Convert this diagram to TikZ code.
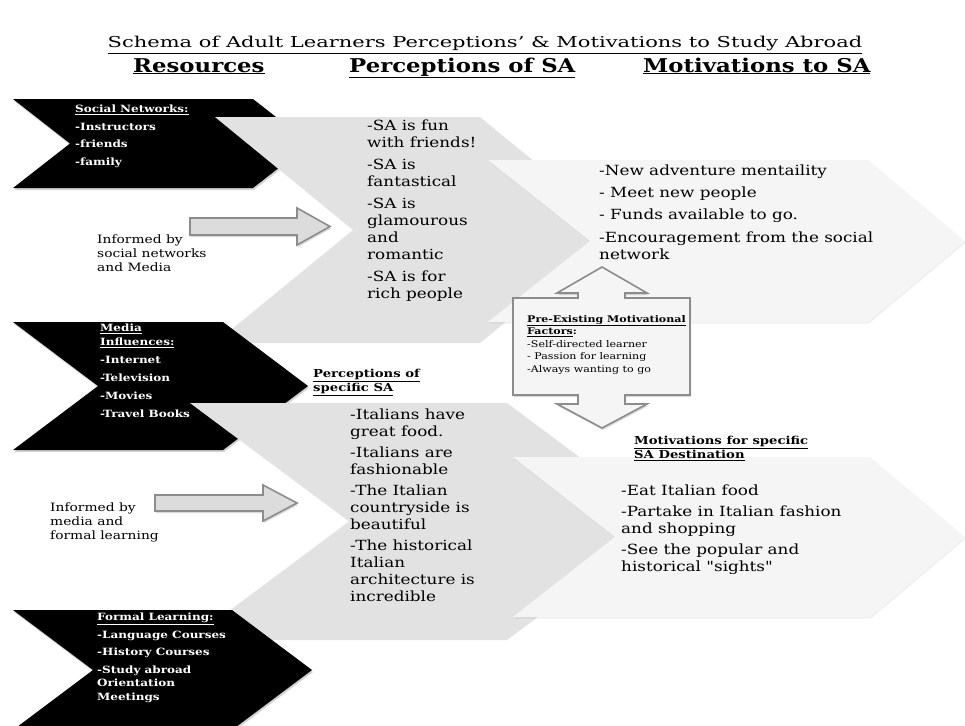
\documentclass[tikz,border=0pt]{standalone}
\usepackage{fontspec}
\setmainfont{DejaVu Serif}[FakeStretch=1.2]
\newfontfamily\titlefont{DejaVu Serif}[FakeStretch=1.4]
\newfontfamily\plainquote{DejaVu Serif}[FakeStretch=1.2]
\usetikzlibrary{shadows}

\definecolor{chevgrey}{HTML}{E2E2E2}
\definecolor{chevlight}{HTML}{F5F5F5}
\definecolor{arrowfill}{HTML}{DCDCDC}
\definecolor{arrowline}{HTML}{8C8C8C}

% chevron: style, left, notch, top-right corner, tip, top, bottom
\newcommand{\chevron}[7]{%
  \fill[#1] (#2,#6) -- (#4,#6) -- (#5,{(#6+#7)/2}) -- (#4,#7) -- (#2,#7) -- (#3,{(#6+#7)/2}) -- cycle;}
\newcommand{\dq}{{\plainquote\char34}}

\tikzset{
  blackchev/.style={fill=black, drop shadow={opacity=0.35, shadow xshift=1pt, shadow yshift=-2pt}},
  greychev/.style={fill=chevgrey},
  lightchev/.style={fill=chevlight, drop shadow={opacity=0.12, shadow xshift=1pt, shadow yshift=-1.5pt}},
  blockarrow/.style={fill=arrowfill, draw=arrowline, line width=1.6pt, line join=miter,
    drop shadow={opacity=0.3, shadow xshift=1pt, shadow yshift=-2pt}},
  txt/.style={anchor=north west, align=left, inner sep=0pt, font=\fontsize{14}{17}\selectfont},
  restxt/.style={txt, text=white, font=\bfseries\fontsize{10}{13.5}\selectfont},
  smalltxt/.style={txt, font=\fontsize{11.5}{14}\selectfont},
  subhead/.style={txt, font=\bfseries\fontsize{11}{14}\selectfont},
  headtxt/.style={anchor=base west, inner sep=0pt, font=\bfseries\fontsize{19}{22}\selectfont},
}

\begin{document}
\begin{tikzpicture}[x=1pt, y=-1pt]
\useasboundingbox (0,0) rectangle (965,725);

% chevrons, back to front
\chevron{blackchev}{13}{70}{253}{310}{99}{188}
\chevron{greychev}{215}{353}{480}{618}{117}{343}
\chevron{lightchev}{488}{590}{868}{965}{160}{322}
\chevron{blackchev}{13}{98}{223}{308}{322}{450}
\chevron{greychev}{190}{349}{507}{666}{403}{640}
\chevron{lightchev}{513}{615}{870}{965}{457}{617}
\chevron{blackchev}{13}{93}{232}{312}{610}{730}

% block arrows
\draw[blockarrow] (190,218) -- (297,218) -- (297,208) -- (330,226.5) -- (297,245) -- (297,235) -- (190,235) -- cycle;
\draw[blockarrow] (155,495) -- (263,495) -- (263,485) -- (297,503) -- (263,521) -- (263,511) -- (155,511) -- cycle;
\draw[blockarrow, fill=chevlight] (602,267) -- (647,293) -- (625,293) -- (625,298) -- (690,298) -- (690,395)
  -- (625,395) -- (625,404) -- (647,404) -- (602,428) -- (557,404) -- (578,404) -- (578,395) -- (513,395)
  -- (513,298) -- (578,298) -- (578,293) -- (557,293) -- cycle;

% titles
\node[anchor=base, inner sep=0pt, font=\titlefont\fontsize{15}{18}\selectfont] (title) at (485,48)
  {\underline{Schema of Adult Learners Perceptions’ \& Motivations to Study Abroad}};
\node[headtxt] (hres) at (133,72) {\underline{Resources}};
\node[headtxt] (hper) at (349,72) {\underline{Perceptions of SA}};
\node[headtxt] (hmot) at (643,72) {\underline{Motivations to SA}};

% resources
\node[restxt] (social) at (75,105) {\underline{Social Networks:}\\[4pt]-Instructors\\[4pt]-friends\\[4pt]-family};
\node[restxt] (media) at (100,324) {\underline{Media}\\\underline{Influences:}\\[5pt]-Internet\\[4.5pt]-Television\\[4.5pt]-Movies\\[4.5pt]-Travel Books};
\node[restxt] (formal) at (97,613) {\underline{Formal Learning:}\\[4pt]-Language Courses\\[4pt]-History Courses\\[4pt]-Study abroad\\Orientation\\Meetings};

\node[smalltxt] (inf1) at (97,235) {Informed by\\social networks\\and Media};
\node[smalltxt] (inf2) at (50,503) {Informed by\\media and\\formal learning};

% perceptions
\node[txt] (perc) at (367,120) {-SA is fun\\with friends!\\[5pt]-SA is\\fantastical\\[5pt]-SA is\\glamourous\\and\\romantic\\[5pt]-SA is for\\rich people};
\node[subhead] (percsp) at (313,369) {\underline{Perceptions of}\\\underline{specific SA}};
\node[txt] (percit) at (350,409) {-Italians have\\great food.\\[4pt]-Italians are\\fashionable\\[4pt]-The Italian\\countryside is\\beautiful\\[4pt]-The historical\\Italian\\architecture is\\incredible};

% motivations
\node[txt] (motiv) at (599,165) {-New adventure mentaility\\[5pt]- Meet new people\\[5pt]- Funds available to go.\\[5.5pt]-Encouragement from the social\\network};
\node[txt, font=\fontsize{9.2}{12.5}\selectfont] (preex) at (527,315) {\textbf{\underline{Pre-Existing Motivational}}\\\textbf{\underline{Factors}:}\\-Self-directed learner\\- Passion for learning\\-Always wanting to go};
\node[subhead] (motsp) at (634,436) {\underline{Motivations for specific}\\\underline{SA Destination}};
\node[txt] (motit) at (621,485) {-Eat Italian food\\[4pt]-Partake in Italian fashion\\and shopping\\[4pt]-See the popular and\\historical \dq sights\dq};
\end{tikzpicture}
\end{document}
